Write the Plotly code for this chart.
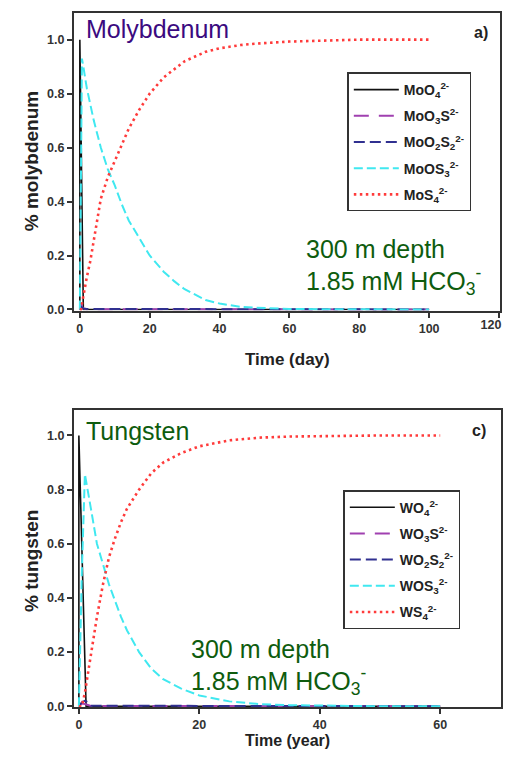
import plotly.graph_objects as go

# --- data: molybdenum, time in days ---
mo_t_fast = [0, 0, 1, 100]
mo_o4 = [0, 1, 0, 0]
mo_t_minor = [0, 0.3, 0.6, 1, 2, 100]
mo_o3s = [0, 0.02, 0.01, 0.004, 0.001, 0]
mo_o2s2 = [0, 0.01, 0.008, 0.004, 0.002, 0]
mo_t = [0, 0.3, 0.6, 1, 2, 3, 4, 6, 8, 10, 12, 14, 17, 20, 24, 27, 30, 36, 40, 46, 50, 60, 70, 80, 90, 100]
mo_os3 = [0, 0.6, 0.93, 0.9, 0.82, 0.76, 0.7, 0.6, 0.52, 0.46, 0.39, 0.33, 0.265, 0.2, 0.14, 0.105,
          0.075, 0.035, 0.022, 0.01, 0.007, 0.002, 0.001, 0, 0, 0]
mo_s4 = [0, 0, 0.02, 0.05, 0.12, 0.18, 0.26, 0.41, 0.49, 0.55, 0.61, 0.67, 0.74, 0.8, 0.86, 0.89,
         0.92, 0.955, 0.968, 0.98, 0.985, 0.993, 0.997, 1.0, 1.0, 1.0]

# --- data: tungsten, time in years ---
w_t_fast = [0, 0, 1.2, 60]
w_o4 = [0, 1, 0, 0]
w_t_minor = [0, 0.5, 1, 1.5, 2, 60]
w_o3s = [0, 0.01, 0.008, 0.004, 0.001, 0]
w_o2s2 = [0, 0.015, 0.02, 0.015, 0.002, 0]
w_t = [0, 0.5, 1, 1.5, 2, 3, 4, 5, 6, 7, 8, 10, 12, 14, 17, 20, 25, 30, 35, 40, 50, 60]
w_os3 = [0, 0.5, 0.857, 0.8, 0.73, 0.6, 0.52, 0.45, 0.39, 0.33, 0.28, 0.2, 0.14, 0.1, 0.065, 0.04,
         0.018, 0.008, 0.004, 0.002, 0, 0]
w_s4 = [0, 0, 0.05, 0.12, 0.2, 0.33, 0.45, 0.55, 0.62, 0.68, 0.73, 0.8, 0.86, 0.9, 0.935, 0.96,
        0.982, 0.992, 0.996, 0.998, 1.0, 1.0]

mo_ticks = [0, 20, 40, 60, 80, 100, 120]
w_ticks = [0, 20, 40, 60]
y_ticks = [0, 0.2, 0.4, 0.6, 0.8, 1.0]

mo_names = ["MoO<sub>4</sub><sup>2-</sup>", "MoO<sub>3</sub>S<sup>2-</sup>",
            "MoO<sub>2</sub>S<sub>2</sub><sup>2-</sup>", "MoOS<sub>3</sub><sup>2-</sup>",
            "MoS<sub>4</sub><sup>2-</sup>"]
w_names = ["WO<sub>4</sub><sup>2-</sup>", "WO<sub>3</sub>S<sup>2-</sup>",
           "WO<sub>2</sub>S<sub>2</sub><sup>2-</sup>", "WOS<sub>3</sub><sup>2-</sup>",
           "WS<sub>4</sub><sup>2-</sup>"]

styles = [
    dict(color="#111111", width=1.6, dash="solid"),
    dict(color="#a040b0", width=2, dash="15px,10px"),
    dict(color="#303090", width=2, dash="11px,5px"),
    dict(color="#40e8f0", width=2, dash="9px,4px"),
    dict(color="#ff3b3b", width=2.6, dash="2.5px,3.5px"),
]

FONT = "Arial, Liberation Sans, sans-serif"
AX = "#333333"
GREEN = "#0e5c0e"

fig = go.Figure()

mo_series = [(mo_t_fast, mo_o4), (mo_t_minor, mo_o3s), (mo_t_minor, mo_o2s2), (mo_t, mo_os3), (mo_t, mo_s4)]
w_series = [(w_t_fast, w_o4), (w_t_minor, w_o3s), (w_t_minor, w_o2s2), (w_t, w_os3), (w_t, w_s4)]

for i, ((x, y), name, st) in enumerate(zip(mo_series, mo_names, styles)):
    fig.add_trace(go.Scatter(x=x, y=y, name=name, mode="lines", line=st, legendgroup=f"mo{i}",
                             xaxis="x", yaxis="y", legend="legend"))
for i, ((x, y), name, st) in enumerate(zip(w_series, w_names, styles)):
    fig.add_trace(go.Scatter(x=x, y=y, name=name, mode="lines", line=st, legendgroup=f"w{i}",
                             xaxis="x2", yaxis="y2", legend="legend2"))
# empty trace so the overlay axis (last tick label of the top panel) gets drawn
fig.add_trace(go.Scatter(x=[], y=[], xaxis="x3", yaxis="y", showlegend=False, hoverinfo="skip"))

# page body has an 8px margin, so the figure sits at (8, 8) in the window;
# height kept a little short so the page never grows past the window
OFF = 8
W, H = 515 - 2 * OFF, 771 - 2 * OFF - 8


def px_x(p):
    return (p - OFF) / W


def px_y(p):
    return 1 - (p - OFF) / H


tick_font = dict(family=FONT, size=12.5, color=AX, weight="bold")
axis_common = dict(showline=True, linecolor=AX, linewidth=2, mirror=True, ticks="outside",
                   ticklen=5, tickwidth=1.5, tickcolor=AX, showgrid=False, zeroline=False,
                   tickfont=tick_font)

legend_common = dict(bgcolor="white", bordercolor=AX, borderwidth=1.5, xanchor="left", yanchor="top",
                     font=dict(family=FONT, size=14, color="#222222", weight="bold"),
                     itemwidth=45, tracegroupgap=5)

top_dom = [px_x(74), px_x(501)]
top_range = [-1.71, 120.3]

fig.update_layout(
    width=W, height=H,
    margin=dict(l=0, r=0, t=0, b=0),
    plot_bgcolor="white", paper_bgcolor="white",
    xaxis=dict(domain=top_dom, range=top_range, tickvals=mo_ticks,
               ticktext=[str(v) for v in mo_ticks[:-1]] + [""], anchor="y", **axis_common),
    xaxis3=dict(domain=top_dom, range=top_range, tickvals=mo_ticks[-1:], overlaying="x", anchor="y",
                side="bottom", ticks="", showline=False, showgrid=False, zeroline=False,
                ticklabelshift=-8, ticklabelstandoff=5, tickfont=tick_font),
    yaxis=dict(domain=[px_y(313), px_y(13)], range=[-0.004, 1.099], tickvals=y_ticks,
               tickformat=".1f", anchor="x", **axis_common),
    xaxis2=dict(domain=[px_x(74), px_x(502)], range=[-0.83, 70.1], tickvals=w_ticks,
                anchor="y2", **axis_common),
    yaxis2=dict(domain=[px_y(713), px_y(413)], range=[-0.004, 1.095], tickvals=y_ticks,
                tickformat=".1f", anchor="x2", **axis_common),
    legend=dict(x=px_x(348), y=px_y(73), **legend_common),
    legend2=dict(x=px_x(344), y=px_y(494), **legend_common),
    showlegend=True,
)

annotations = [
    dict(text="Molybdenum", x=px_x(84), y=px_y(29), xanchor="left", font=dict(size=25, color="#3b0a80")),
    dict(text="<b>a)</b>", x=px_x(491), y=px_y(33), xanchor="right", font=dict(size=16, color="#222222")),
    dict(text="300 m depth", x=px_x(305), y=px_y(251), xanchor="left", font=dict(size=25, color=GREEN)),
    dict(text="1.85 mM HCO<sub>3</sub><sup>-</sup>", x=px_x(305), y=px_y(283), xanchor="left",
         font=dict(size=25, color=GREEN)),
    dict(text="<b>Time (day)</b>", x=px_x(288), y=px_y(362), font=dict(size=17, color="#222222")),
    dict(text="<b>% molybdenum</b>", x=px_x(19), y=px_y(162), textangle=-90, font=dict(size=19, color="#222222")),
    dict(text="Tungsten", x=px_x(84), y=px_y(434), xanchor="left", font=dict(size=25, color=GREEN)),
    dict(text="<b>c)</b>", x=px_x(489), y=px_y(434), xanchor="right", font=dict(size=16, color="#222222")),
    dict(text="300 m depth", x=px_x(189), y=px_y(654), xanchor="left", font=dict(size=25, color=GREEN)),
    dict(text="1.85 mM HCO<sub>3</sub><sup>-</sup>", x=px_x(189), y=px_y(686), xanchor="left",
         font=dict(size=25, color=GREEN)),
    dict(text="<b>Time (year)</b>", x=px_x(288), y=px_y(746), font=dict(size=16, color="#222222")),
    dict(text="<b>% tungsten</b>", x=px_x(19), y=px_y(565), textangle=-90, font=dict(size=19, color="#222222")),
]
for a in annotations:
    a.setdefault("xref", "paper")
    a.setdefault("yref", "paper")
    a.setdefault("showarrow", False)
    a.setdefault("yanchor", "middle")
    a["font"]["family"] = FONT
    fig.add_annotation(**a)

fig.write_html("out.html", config=dict(displayModeBar=False))
